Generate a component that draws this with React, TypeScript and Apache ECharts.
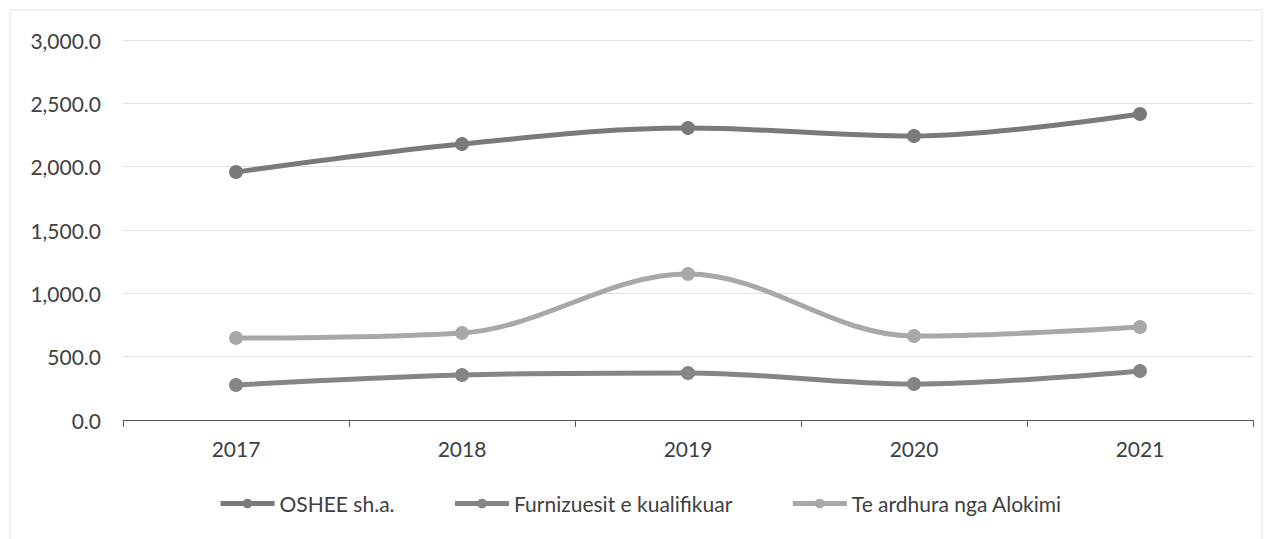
import React, { useEffect, useRef } from "react";
import * as echarts from "echarts";

const years = ["2017", "2018", "2019", "2020", "2021"];
const oshee = [1958, 2179, 2305, 2242, 2416];
const furnizuesit = [276, 355, 371, 284, 387];
const teArdhura = [647, 687, 1153, 663, 734];
const seriesNames = ["OSHEE sh.a.", "Furnizuesit e kualifikuar", "Te ardhura nga Alokimi"];
const seriesColors = ["#7a7a7a", "#858585", "#a8a8a8"];

export default function App() {
  const ref = useRef<HTMLDivElement>(null);
  useEffect(() => {
    if (!ref.current) return;
    const chart = echarts.init(ref.current, null, { renderer: "svg" });
    const font = "Lato, 'Open Sans', sans-serif";
    const data = [oshee, furnizuesit, teArdhura];
    chart.setOption({
      animation: false,
      backgroundColor: "#ffffff",
      grid: { left: 123, right: 15, top: 40, bottom: 119 },
      legend: {
        bottom: 20,
        left: 213,
        itemWidth: 54,
        itemHeight: 12,
        itemGap: 58,
        lineStyle: { width: 5 },
        textStyle: { fontFamily: font, fontSize: 21, color: "#404040" },
        data: seriesNames,
      },
      xAxis: {
        type: "category",
        data: years,
        boundaryGap: true,
        axisLine: { lineStyle: { color: "#5a5a5a", width: 1 } },
        axisTick: { show: true, length: 7, lineStyle: { color: "#5a5a5a" } },
        axisLabel: { fontFamily: font, fontSize: 21, color: "#404040", margin: 18 },
      },
      yAxis: {
        type: "value",
        min: 0,
        max: 3000,
        interval: 500,
        axisLine: { show: false },
        axisTick: { show: false },
        splitLine: { lineStyle: { color: "#e3e3e3", width: 1 } },
        axisLabel: {
          fontFamily: font,
          fontSize: 21,
          color: "#404040",
          margin: 22,
          formatter: (v: number) =>
            v.toLocaleString("en-US", { minimumFractionDigits: 1, maximumFractionDigits: 1 }),
        },
      },
      graphic: [
        {
          type: "rect",
          shape: { x: 10, y: 10, width: 1252, height: 540 },
          style: { fill: "none", stroke: "#e0e0e0", lineWidth: 1 },
          silent: true,
        },
      ],
      series: seriesNames.map((name, i) => ({
        name,
        type: "line",
        data: data[i],
        smooth: 0.35,
        symbol: "circle",
        symbolSize: 14,
        color: seriesColors[i],
        lineStyle: { width: 5, color: seriesColors[i] },
        itemStyle: { color: seriesColors[i] },
      })),
    });
    return () => chart.dispose();
  }, []);
  return <div ref={ref} style={{ width: 1268, height: 539, position: "absolute", left: 0, top: 0 }} />;
}
